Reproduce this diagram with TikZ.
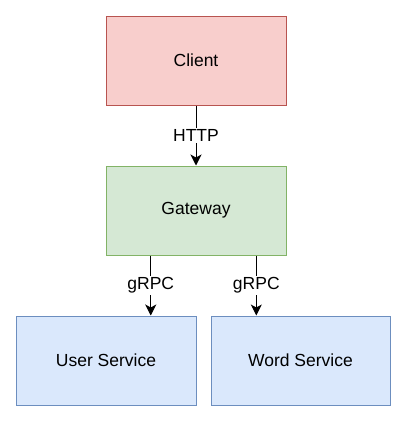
\documentclass[tikz,border=0pt]{standalone}
\usepackage{fontspec}
\setmainfont{Liberation Sans}
\usetikzlibrary{arrows.meta,calc}
\definecolor{clientfill}{HTML}{F8CECC}
\definecolor{clientline}{HTML}{B85450}
\definecolor{gwfill}{HTML}{D5E8D4}
\definecolor{gwline}{HTML}{82B366}
\definecolor{svcfill}{HTML}{DAE8FC}
\definecolor{svcline}{HTML}{6C8EBF}
\tikzset{
  box/.style={draw, line width=1pt, minimum width=180pt, minimum height=89pt, inner sep=0pt, font=\fontsize{17.5}{20}\selectfont},
  lbl/.style={fill=white, inner sep=1.5pt, font=\fontsize{17.5}{20}\selectfont},
  conn/.style={draw, line width=1pt, -{Stealth[length=11pt,width=11pt,inset=3pt]}}
}
\begin{document}
\begin{tikzpicture}[x=1pt,y=-1pt]
\useasboundingbox (0,0) rectangle (408,423);
\node[box, fill=clientfill, draw=clientline] (client) at (196,60.5) {Client};
\node[box, fill=gwfill, draw=gwline] (gw) at (196,210.5) {Gateway};
\node[box, fill=svcfill, draw=svcline] (usvc) at (106,360.5) {User Service};
\node[box, fill=svcfill, draw=svcline, minimum width=179pt] (wsvc) at (300.5,360.5) {Word Service};

\coordinate (gwl) at ($(gw.south west)!0.25!(gw.south east)$);
\coordinate (gwr) at ($(gw.south west)!0.8333!(gw.south east)$);

\path[conn] (client) -- node[lbl] {HTTP} (gw);
\path[conn] (gwl) -- node[lbl] {gRPC} (gwl |- usvc.north);
\path[conn] (gwr) -- node[lbl] {gRPC} (gwr |- wsvc.north);
\end{tikzpicture}
\end{document}
